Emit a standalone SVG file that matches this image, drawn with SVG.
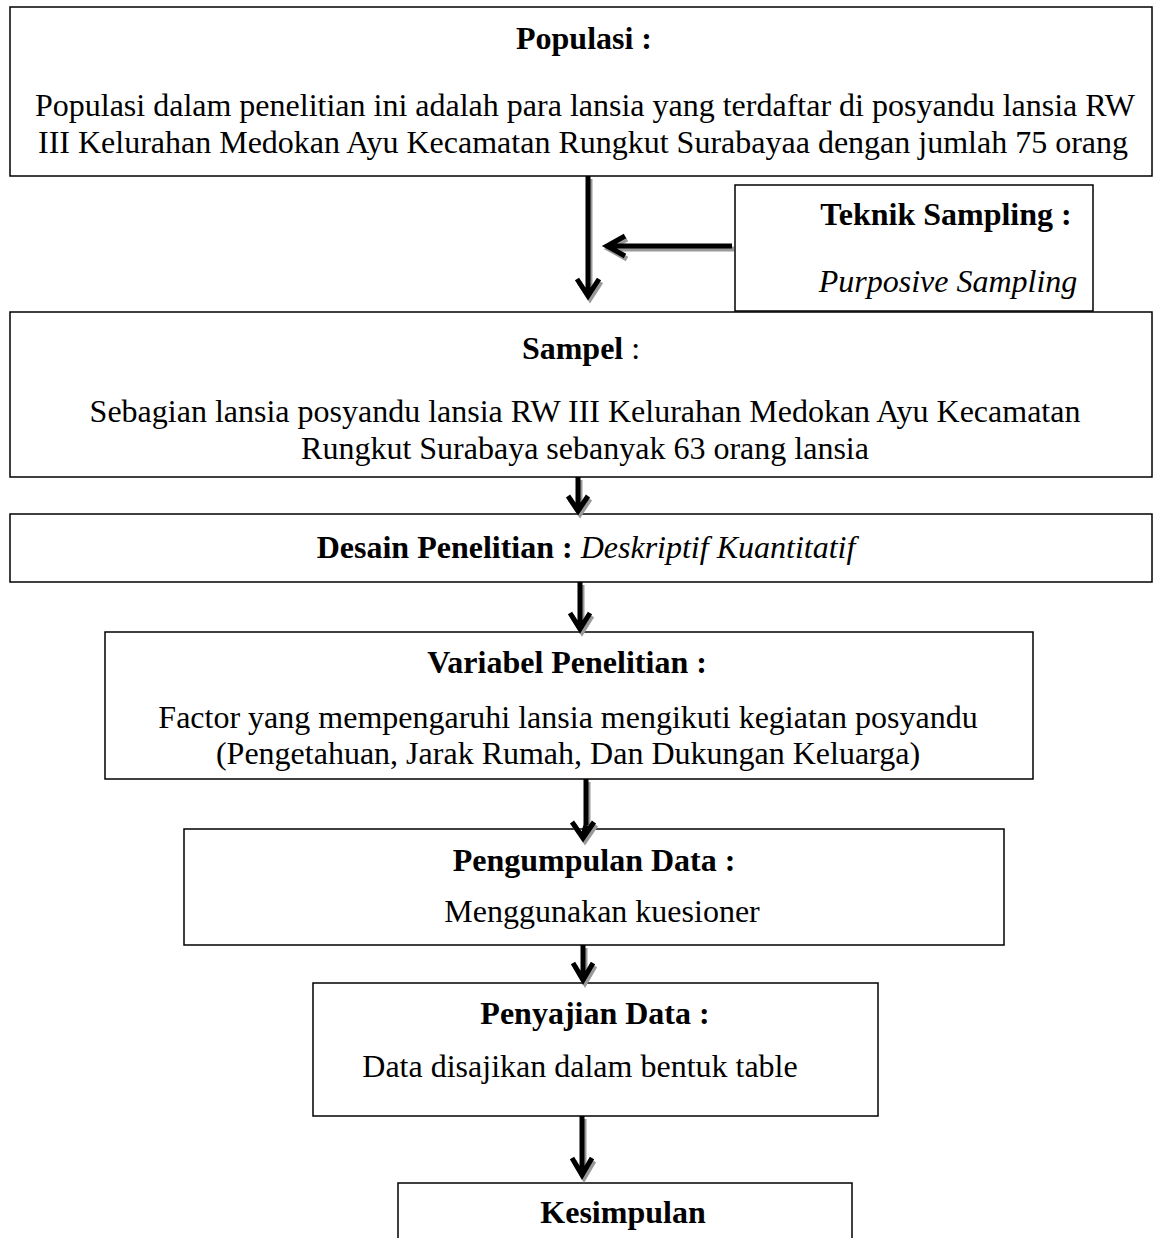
<svg xmlns="http://www.w3.org/2000/svg" xmlns:xlink="http://www.w3.org/1999/xlink" width="1162" height="1238" viewBox="0 0 1162 1238">
<style>
.box{fill:#fff;stroke:#000;stroke-width:1.5}
text{font-family:"Liberation Serif","Times New Roman",serif;font-size:32px;fill:#000;text-anchor:middle}
.b{font-weight:bold}
.i{font-style:italic}
.arr{fill:none;stroke:#000;stroke-width:5;stroke-linejoin:miter}
.sh{fill:none;stroke:#999;stroke-width:5;stroke-linejoin:miter}
</style>
<rect width="1162" height="1238" fill="#fff"/>
<g id="populasi">
<rect class="box" x="10" y="7" width="1142" height="169"/>
<text class="b" x="584" y="49">Populasi :</text>
<text x="585" y="116">Populasi dalam penelitian ini adalah para lansia yang terdaftar di posyandu lansia RW</text>
<text x="583" y="153">III Kelurahan Medokan Ayu Kecamatan Rungkut Surabayaa dengan jumlah 75 orang</text>
</g>
<g id="teknik">
<rect class="box" x="735" y="185" width="358" height="126"/>
<text class="b" x="946" y="225">Teknik Sampling :</text>
<text class="i" x="948" y="292">Purposive Sampling</text>
</g>
<g id="sampel">
<rect class="box" x="10" y="312" width="1142" height="165"/>
<text x="581" y="359"><tspan class="b">Sampel</tspan> :</text>
<text x="585" y="422">Sebagian lansia posyandu lansia RW III Kelurahan Medokan Ayu Kecamatan</text>
<text x="585" y="459">Rungkut Surabaya sebanyak 63 orang lansia</text>
</g>
<g id="desain">
<rect class="box" x="10" y="514" width="1142" height="68"/>
<text x="586" y="558"><tspan class="b">Desain Penelitian : </tspan><tspan class="i">Deskriptif Kuantitatif</tspan></text>
</g>
<g id="variabel">
<rect class="box" x="105" y="632" width="928" height="147"/>
<text class="b" x="567" y="673">Variabel Penelitian :</text>
<text x="568" y="728">Factor yang mempengaruhi lansia mengikuti kegiatan posyandu</text>
<text x="568" y="764">(Pengetahuan, Jarak Rumah, Dan Dukungan Keluarga)</text>
</g>
<g id="pengumpulan">
<rect class="box" x="184" y="829" width="820" height="116"/>
<text class="b" x="594" y="871">Pengumpulan Data :</text>
<text x="602" y="922">Menggunakan kuesioner</text>
</g>
<g id="penyajian">
<rect class="box" x="313" y="983" width="565" height="133"/>
<text class="b" x="595" y="1024">Penyajian Data :</text>
<text x="580" y="1077">Data disajikan dalam bentuk table</text>
</g>
<g id="kesimpulan">
<rect class="box" x="398" y="1183" width="454" height="70"/>
<text class="b" x="623" y="1223">Kesimpulan</text>
</g>
<g id="connectors">
<defs>
<g id="arrows">
<path d="M588,176 V296 M577,279 L588,296 L599,279"/>
<path d="M732,246 H607 M625,236 L607,246 L625,256"/>
<path d="M578,477 V511 M568,496 L578,511 L588,496"/>
<path d="M580,582 V629 M570,613 L580,629 L590,613"/>
<path d="M586,779 V825 M572,822 L583,838 L594,822 M586,825 L583,836"/>
<path d="M583,945 V980 M573,963 L583,980 L593,963"/>
<path d="M582,1116 V1175 M572,1158 L582,1175 L592,1158"/>
</g>
</defs>
<use xlink:href="#arrows" class="sh" transform="translate(2,3)"/>
<use xlink:href="#arrows" class="arr"/>
</g>
</svg>
